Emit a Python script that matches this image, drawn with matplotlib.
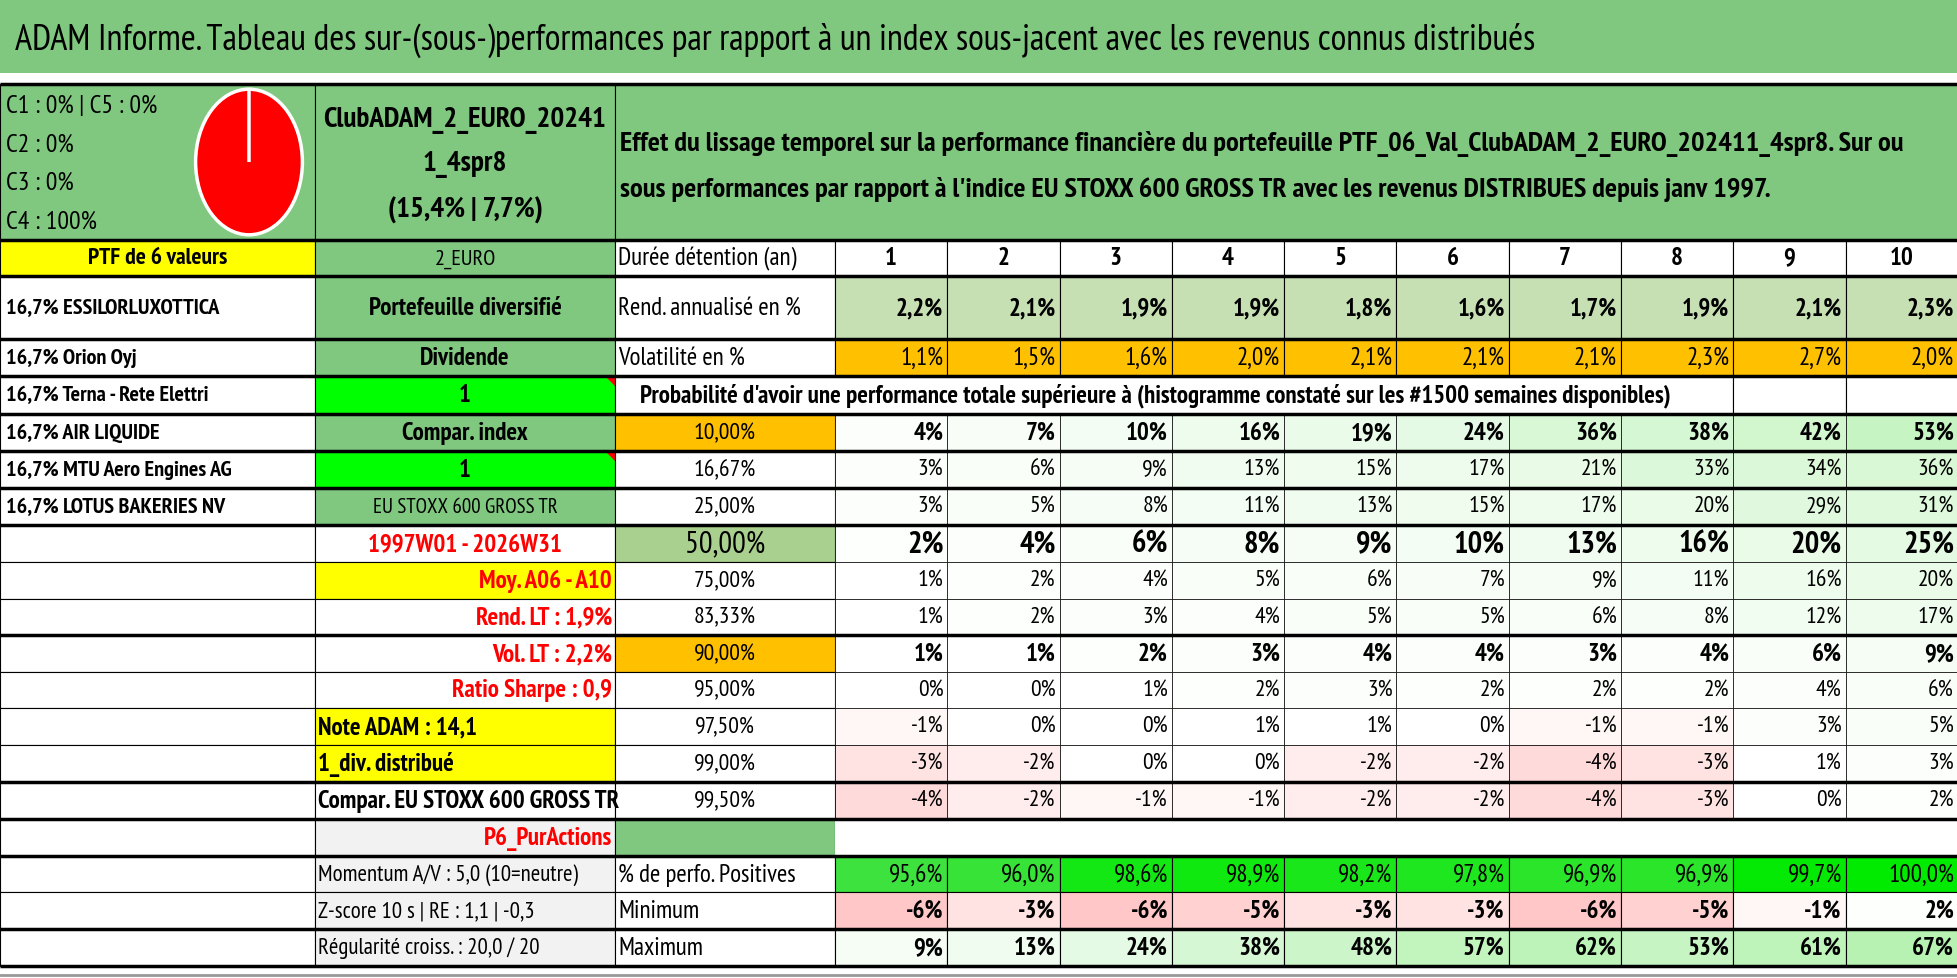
import matplotlib.pyplot as plt
from matplotlib.patches import Rectangle, Polygon
import numpy as np

plt.rcParams['font.family'] = ['PT Sans Narrow', 'DejaVu Sans']

title = "ADAM Informe. Tableau des sur-(sous-)performances par rapport à un index sous-jacent avec les revenus connus distribués"
desc1 = "Effet du lissage temporel sur la performance financière du portefeuille PTF_06_Val_ClubADAM_2_EURO_202411_4spr8. Sur ou"
desc2 = "sous performances par rapport à l'indice EU STOXX 600 GROSS TR avec les revenus DISTRIBUES depuis janv 1997."

pie_labels = ['C1', 'C2', 'C3', 'C4', 'C5']
pie_vals = [0, 0, 0, 100, 0]

names = ['16,7% ESSILORLUXOTTICA', '16,7% Orion Oyj', '16,7% Terna - Rete Elettri',
         '16,7% AIR LIQUIDE', '16,7% MTU Aero Engines AG', '16,7% LOTUS BAKERIES NV']
years = list(range(1, 11))
rend = [2.2, 2.1, 1.9, 1.9, 1.8, 1.6, 1.7, 1.9, 2.1, 2.3]
vol = [1.1, 1.5, 1.6, 2.0, 2.1, 2.1, 2.1, 2.3, 2.7, 2.0]
pct_labels = ['10,00%', '16,67%', '25,00%', '50,00%', '75,00%', '83,33%',
              '90,00%', '95,00%', '97,50%', '99,00%', '99,50%']
prob = [
    [4, 7, 10, 16, 19, 24, 36, 38, 42, 53],
    [3, 6, 9, 13, 15, 17, 21, 33, 34, 36],
    [3, 5, 8, 11, 13, 15, 17, 20, 29, 31],
    [2, 4, 6, 8, 9, 10, 13, 16, 20, 25],
    [1, 2, 4, 5, 6, 7, 9, 11, 16, 20],
    [1, 2, 3, 4, 5, 5, 6, 8, 12, 17],
    [1, 1, 2, 3, 4, 4, 3, 4, 6, 9],
    [0, 0, 1, 2, 3, 2, 2, 2, 4, 6],
    [-1, 0, 0, 1, 1, 0, -1, -1, 3, 5],
    [-3, -2, 0, 0, -2, -2, -4, -3, 1, 3],
    [-4, -2, -1, -1, -2, -2, -4, -3, 0, 2],
]
positives = [95.6, 96.0, 98.6, 98.9, 98.2, 97.8, 96.9, 96.9, 99.7, 100.0]
minimum = [-6, -3, -6, -5, -3, -3, -6, -5, -1, 2]
maximum = [9, 13, 24, 38, 48, 57, 62, 53, 61, 67]

GREEN = '#80c880'
YEL = '#ffff00'
LIME = '#00ff00'
ORANGE = '#ffc000'
GREY = '#f2f2f2'

E = [85, 241, 277, 340, 377, 415, 452, 489, 526, 563, 600, 636, 673, 709, 746, 783, 820, 857, 893, 930, 967]
X = [0, 315, 615, 835] + [835 + 112.3 * k for k in range(1, 11)]

fig = plt.figure(figsize=(19.58, 9.79), dpi=100)
ax = fig.add_axes([0, 0, 1, 1])
ax.set_xlim(0, 1958)
ax.set_ylim(979, 0)
ax.axis('off')


def cell(x0, x1, y0, y1, color='white', lw=0.8):
    ax.add_patch(Rectangle((x0, y0), x1 - x0, y1 - y0, facecolor=color, edgecolor='black', lw=lw))


def txt(x, y, s, ha='center', size=16, weight='normal', color='black', clip=None):
    t = ax.text(x, y, s, ha=ha, va='center', fontsize=size, fontweight=weight, color=color)
    if clip is not None:
        t.set_clip_path(clip)
    return t


def fr(v, d=1):
    return (f"{v:.{d}f}%").replace('.', ',')


def pcolor(v):
    if v >= 0:
        f = min(v / 75.0, 1)
        c0 = np.array([255, 255, 255]); c1 = np.array([175, 240, 170])
    else:
        f = min(-v / 7.0, 1)
        c0 = np.array([255, 255, 255]); c1 = np.array([255, 190, 190])
    c = c0 + (c1 - c0) * f
    return c / 255


def row(i):
    return E[i], E[i + 1], (E[i] + E[i + 1]) / 2


# title bar
ax.add_patch(Rectangle((0, 0), 1958, 74, facecolor=GREEN, edgecolor='none'))
txt(15, 40, title, ha='left', size=26)

# header row
y0, y1, yc = row(0)
cell(0, X[1], y0, y1, GREEN)
cell(X[1], X[2], y0, y1, GREEN)
cell(X[2], 1958, y0, y1, GREEN)
txt(6, 107, f"{pie_labels[0]} : {pie_vals[0]}% | {pie_labels[4]} : {pie_vals[4]}%", ha='left', size=18.5)
for k, yy in zip([1, 2, 3], [145, 183, 222]):
    txt(6, yy, f"{pie_labels[k]} : {pie_vals[k]}%", ha='left', size=18.5)
txt(465, 120, "ClubADAM_2_EURO_20241", size=21, weight='bold')
txt(465, 165, "1_4spr8", size=21, weight='bold')
txt(465, 210, "(15,4% | 7,7%)", size=21, weight='bold')
txt(620, 144, desc1, ha='left', size=20.5, weight='bold')
txt(620, 190, desc2, ha='left', size=20.5, weight='bold')

pax = fig.add_axes([194 / 1958, 1 - 238 / 979, 110 / 1958, 150 / 979])
pax.pie(pie_vals, colors=['#ff0000'] * 5, startangle=90, counterclock=False,
        wedgeprops=dict(edgecolor='white', linewidth=2.5))
pax.set_aspect('auto')
pax.set_xlim(-1.03, 1.03)
pax.set_ylim(-1.03, 1.03)

# column A
y0, y1, yc = row(1)
cell(0, X[1], y0, y1, YEL)
txt(X[1] / 2, yc, "PTF de 6 valeurs", size=17, weight='bold')
for i in range(2, 20):
    y0, y1, yc = row(i)
    cell(0, X[1], y0, y1)
    if i - 2 < len(names):
        txt(6, yc, names[i - 2], ha='left', size=16, weight='bold')

# column B
colB = {
    1: ("2_EURO", GREEN, 'center', 'black', 'normal', 16),
    2: ("Portefeuille diversifié", GREEN, 'center', 'black', 'bold', 18),
    3: ("Dividende", GREEN, 'center', 'black', 'bold', 18),
    4: ("1", LIME, 'center', 'black', 'bold', 18),
    5: ("Compar. index", GREEN, 'center', 'black', 'bold', 18),
    6: ("1", LIME, 'center', 'black', 'bold', 18),
    7: ("EU STOXX 600 GROSS TR", GREEN, 'center', 'black', 'normal', 15),
    8: ("1997W01 - 2026W31", 'white', 'center', 'red', 'bold', 18),
    9: ("Moy. A06 - A10", YEL, 'right', 'red', 'bold', 18),
    10: ("Rend. LT : 1,9%", 'white', 'right', 'red', 'bold', 18),
    11: ("Vol. LT : 2,2%", 'white', 'right', 'red', 'bold', 18),
    12: ("Ratio Sharpe : 0,9", 'white', 'right', 'red', 'bold', 18),
    13: ("Note ADAM : 14,1", YEL, 'left', 'black', 'bold', 18),
    14: ("1_div. distribué", YEL, 'left', 'black', 'bold', 18),
    15: ("Compar. EU STOXX 600 GROSS TR", 'white', 'left', 'black', 'bold', 18),
    16: ("P6_PurActions", GREY, 'right', 'red', 'bold', 18),
    17: ("Momentum A/V : 5,0 (10=neutre)", GREY, 'left', 'black', 'normal', 16.5),
    18: ("Z-score 10 s | RE : 1,1 | -0,3", GREY, 'left', 'black', 'normal', 16.5),
    19: ("Régularité croiss. : 20,0 / 20", GREY, 'left', 'black', 'normal', 16.5),
}
for i, (s, c, ha, tc, w, sz) in colB.items():
    y0, y1, yc = row(i)
    r = Rectangle((X[1], y0), X[2] - X[1], y1 - y0, facecolor=c, edgecolor='black', lw=0.8)
    ax.add_patch(r)
    xx = {'center': (X[1] + X[2]) / 2, 'left': X[1] + 3, 'right': X[2] - 3}[ha]
    txt(xx, yc, s, ha=ha, size=sz, weight=w, color=tc, clip=r)
    if s == "1":
        ax.add_patch(Polygon([[X[2] - 9, y0], [X[2], y0], [X[2], y0 + 9]], color='red'))

# column C + years
yx = [(X[3 + k] + X[4 + k]) for k in range(10)]
y0, y1, yc = row(1)
cell(X[2], X[3], y0, y1)
txt(X[2] + 3, yc, "Durée détention (an)", ha='left', size=18)
for k, yr in enumerate(years):
    cell(X[3 + k], X[4 + k], y0, y1)
    txt(yx[k] / 2, yc, str(yr), size=18, weight='bold')

y0, y1, yc = row(2)
cell(X[2], X[3], y0, y1)
txt(X[2] + 3, yc, "Rend. annualisé en %", ha='left', size=18)
for k, v in enumerate(rend):
    cell(X[3 + k], X[4 + k], y0, y1, '#c6e0b4')
    txt(X[4 + k] - 4, yc, fr(v), ha='right', size=18, weight='bold')

y0, y1, yc = row(3)
cell(X[2], X[3], y0, y1)
txt(X[2] + 3, yc, "Volatilité en %", ha='left', size=18)
for k, v in enumerate(vol):
    cell(X[3 + k], X[4 + k], y0, y1, ORANGE)
    txt(X[4 + k] - 4, yc, fr(v), ha='right', size=18)

y0, y1, yc = row(4)
cell(X[2], X[11], y0, y1)
cell(X[11], X[12], y0, y1)
cell(X[12], X[13], y0, y1)
txt(X[2] + 25, yc, "Probabilité d'avoir une performance totale supérieure à (histogramme constaté sur les #1500 semaines disponibles)",
    ha='left', size=18, weight='bold')

pct_colors = {0: ORANGE, 3: '#a9d08e', 6: ORANGE}
for j, lab in enumerate(pct_labels):
    y0, y1, yc = row(5 + j)
    big = j == 3
    bold = j in (0, 3, 6)
    cell(X[2], X[3], y0, y1, pct_colors.get(j, 'white'))
    txt((X[2] + X[3]) / 2, yc, lab, size=22 if big else 17)
    for k, v in enumerate(prob[j]):
        cell(X[3 + k], X[4 + k], y0, y1, pcolor(v), lw=0.5)
        txt(X[4 + k] - 4, yc, f"{v}%", ha='right', size=22 if big else (18 if bold else 17),
            weight='bold' if bold else 'normal')

y0, y1, yc = row(16)
cell(X[2], X[3], y0, y1, GREEN)
ax.add_patch(Rectangle((X[3], y0), 1958 - X[3], y1 - y0, facecolor='white', edgecolor='none'))

y0, y1, yc = row(17)
cell(X[2], X[3], y0, y1)
txt(X[2] + 3, yc, "% de perfo. Positives", ha='left', size=18)
for k, v in enumerate(positives):
    f = (v - 95.0) / 5.0
    c = np.array([70, 225, 70]) + (np.array([0, 235, 0]) - np.array([70, 225, 70])) * f
    cell(X[3 + k], X[4 + k], y0, y1, c / 255)
    txt(X[4 + k] - 4, yc, fr(v), ha='right', size=18)

y0, y1, yc = row(18)
cell(X[2], X[3], y0, y1)
txt(X[2] + 3, yc, "Minimum", ha='left', size=18)
for k, v in enumerate(minimum):
    cell(X[3 + k], X[4 + k], y0, y1, pcolor(v))
    txt(X[4 + k] - 4, yc, f"{v}%", ha='right', size=18, weight='bold')

y0, y1, yc = row(19)
cell(X[2], X[3], y0, y1)
txt(X[2] + 3, yc, "Maximum", ha='left', size=18)
for k, v in enumerate(maximum):
    cell(X[3 + k], X[4 + k], y0, y1, pcolor(v))
    txt(X[4 + k] - 4, yc, f"{v}%", ha='right', size=18, weight='bold')

# thick row separators
for yy in [85, 241, 277, 340, 377, 415, 452, 489, 526, 636, 783, 820, 857, 930, 967]:
    ax.plot([0, 1958], [yy, yy], color='black', lw=2.5, solid_capstyle='butt')
ax.plot([0, 1958], [976, 976], color='#999999', lw=2)

fig.savefig('out.png', dpi=100)
